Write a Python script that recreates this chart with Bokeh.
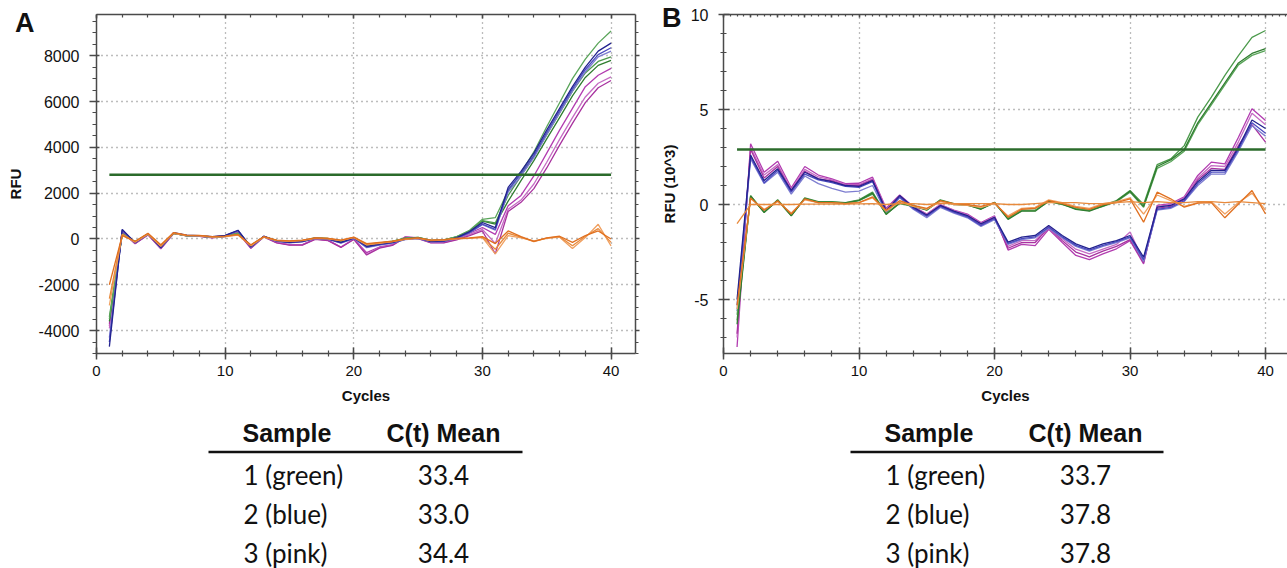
from bokeh.plotting import figure
from bokeh.models import Range1d, LinearAxis, SingleIntervalTicker, FixedTicker, PrintfTickFormatter
from bokeh.layouts import row, column
from bokeh.embed import file_html
from bokeh.resources import INLINE
from bokeh.core.properties import value

cycles = list(range(1, 41))

# ---- Panel A (RFU) ----
a_blue_1 = [-4700, 420, -160, 230, -380, 280, 170, 150, 100, 160, 380, -350, 120, -80, -150, -100, 40, 0, -150, 50,
            -320, -220, -150, 0, 50, -100, -80, 60, 320, 720, 500, 2250, 2950, 3750, 4750, 5700, 6650, 7500, 8200, 8550]
a_blue_2 = [-4500, 380, -150, 220, -360, 260, 160, 140, 90, 150, 350, -330, 110, -90, -160, -120, 30, -10, -170, 30,
            -350, -250, -170, -20, 30, -120, -100, 40, 280, 650, 420, 2150, 2850, 3650, 4650, 5600, 6550, 7400, 8050, 8350]
a_blue_3 = [-4300, 400, -170, 210, -400, 270, 150, 130, 80, 140, 360, -370, 100, -100, -170, -130, 20, -20, -180, 20,
            -380, -270, -180, -30, 20, -130, -110, 30, 260, 620, 380, 2050, 2750, 3550, 4550, 5500, 6450, 7300, 7950, 8200]
a_green_1 = [-3500, 250, -120, 220, -300, 250, 150, 130, 90, 120, 250, -280, 100, -60, -120, -80, 50, 20, -100, 60,
             -250, -180, -100, 40, 70, -60, -40, 100, 380, 860, 930, 2100, 2900, 3800, 4900, 5950, 7000, 7850, 8550, 9080]
a_green_2 = [-3600, 200, -130, 200, -320, 240, 140, 120, 80, 110, 230, -300, 90, -70, -130, -90, 40, 10, -110, 50,
             -270, -200, -110, 30, 60, -70, -50, 90, 330, 780, 650, 1650, 2550, 3420, 4370, 5300, 6250, 7050, 7580, 7800]
a_green_3 = [-3400, 220, -110, 210, -310, 245, 145, 125, 85, 115, 240, -290, 95, -65, -125, -85, 45, 15, -105, 55,
             -260, -190, -105, 35, 65, -65, -45, 95, 350, 800, 700, 1900, 2750, 3600, 4550, 5500, 6450, 7250, 7750, 7950]
a_pink_1 = [-3800, 300, -200, 200, -400, 260, 160, 130, 70, 120, 300, -380, 110, -150, -250, -250, 0, -50, -350, 0,
            -600, -350, -250, 100, 50, -150, -150, 0, 250, 500, 200, 1450, 1900, 2750, 3750, 4750, 5700, 6650, 7150, 7450]
a_pink_2 = [-3900, 320, -190, 190, -420, 250, 150, 120, 60, 110, 280, -400, 100, -160, -260, -260, -10, -60, -360, -10,
            -670, -380, -270, 80, 30, -160, -160, -20, 200, 420, -200, 1300, 1700, 2400, 3350, 4350, 5300, 6200, 6800, 7080]
a_pink_3 = [-3700, 310, -210, 180, -430, 240, 140, 110, 50, 100, 270, -410, 90, -170, -270, -270, -20, -70, -370, -20,
            -700, -400, -280, 60, 20, -170, -170, -40, 150, 350, -650, 1200, 1600, 2200, 3100, 4100, 5050, 5950, 6600, 6920]
a_orange_1 = [-2000, 150, -100, 250, -250, 280, 170, 160, 100, 120, 200, -250, 100, -50, -80, -50, 50, 30, -50, 80,
              -200, -150, -100, 0, 50, -50, -30, 30, 50, 100, -200, 350, 100, -100, 50, 120, -150, 150, 350, 0]
a_orange_2 = [-2600, 200, -120, 230, -300, 260, 160, 150, 90, 110, 180, -280, 90, -60, -90, -60, 40, 20, -60, 70,
              -230, -170, -110, -10, 40, -60, -40, 20, 40, 80, -450, 250, 80, -120, 40, 100, -300, 120, 450, -150]
a_orange_3 = [-2900, 180, -140, 210, -320, 250, 150, 140, 80, 100, 170, -300, 80, -70, -100, -70, 30, 10, -70, 60,
              -260, -190, -120, -20, 30, -70, -50, 10, 30, 60, -650, 150, 50, -80, 30, 80, -420, 60, 640, -300]
a_threshold = 2800

# ---- Panel B (RFU x 10^3) ----
b_blue_1 = [-5.0, 2.6, 1.26, 1.88, 0.74, 1.7, 1.35, 1.2, 1.0, 0.95, 1.26, -0.32, 0.47, -0.14, -0.55, -0.05, -0.35, -0.58, -1.02, -0.67,
            -1.98, -1.72, -1.63, -1.1, -1.63, -2.07, -2.33, -2.07, -1.9, -1.63, -2.77, -0.14, -0.05, 0.3, 1.2, 1.8, 1.8, 3.0, 4.45, 4.0]
b_blue_2 = [-5.3, 2.5, 1.15, 1.8, 0.65, 1.6, 1.3, 1.15, 0.95, 0.9, 1.2, -0.4, 0.4, -0.2, -0.62, -0.1, -0.4, -0.65, -1.1, -0.75,
            -2.05, -1.8, -1.7, -1.2, -1.7, -2.15, -2.4, -2.15, -1.95, -1.7, -2.9, -0.25, -0.15, 0.2, 1.1, 1.7, 1.7, 2.9, 4.3, 3.75]
b_blue_3 = [-5.6, 2.4, 1.1, 1.7, 0.55, 1.5, 1.1, 0.85, 0.65, 0.7, 1.0, -0.45, 0.35, -0.25, -0.7, -0.15, -0.45, -0.7, -1.15, -0.8,
            -2.1, -1.85, -1.75, -1.25, -1.75, -2.2, -2.45, -2.2, -2.0, -1.75, -3.0, -0.3, -0.2, 0.15, 1.0, 1.6, 1.6, 2.8, 4.15, 3.6]
b_pink_1 = [-7.5, 3.2, 1.7, 2.28, 0.88, 2.0, 1.55, 1.35, 1.1, 1.12, 1.44, -0.2, 0.5, -0.1, -0.5, 0.0, -0.3, -0.5, -0.95, -0.6,
            -2.4, -2.1, -2.16, -1.3, -2.0, -2.68, -2.9, -2.6, -2.33, -1.9, -3.12, -0.05, 0.05, 0.4, 1.53, 2.23, 2.14, 3.54, 5.04, 4.42]
b_pink_2 = [-7.0, 3.0, 1.55, 2.1, 0.8, 1.85, 1.45, 1.3, 1.05, 1.05, 1.35, -0.25, 0.45, -0.12, -0.52, -0.02, -0.32, -0.55, -1.0, -0.62,
            -2.2, -1.9, -1.9, -1.15, -1.8, -2.35, -2.6, -2.35, -2.1, -1.45, -2.95, -0.1, 0.0, 0.35, 1.4, 2.05, 2.0, 3.3, 4.8, 4.2]
b_pink_3 = [-6.8, 2.9, 1.4, 2.0, 0.7, 1.75, 1.35, 1.25, 1.0, 1.0, 1.3, -0.3, 0.4, -0.18, -0.6, -0.08, -0.4, -0.62, -1.1, -0.7,
            -2.3, -2.0, -2.0, -1.2, -1.9, -2.5, -2.75, -2.45, -2.2, -1.85, -3.05, -0.2, -0.1, 0.25, 1.3, 1.9, 1.85, 3.1, 4.2, 3.28]
b_green_1 = [-6.1, 0.47, -0.4, 0.25, -0.58, 0.35, 0.15, 0.15, 0.1, 0.25, 0.65, -0.5, 0.1, -0.05, -0.28, 0.25, 0.05, 0.0, -0.23, 0.12,
             -0.75, -0.32, -0.32, 0.21, 0.04, -0.23, -0.32, -0.05, 0.21, 0.74, 0.0, 2.1, 2.4, 3.1, 4.6, 5.65, 6.8, 7.84, 8.8, 9.16]
b_green_2 = [-6.3, 0.45, -0.42, 0.22, -0.6, 0.33, 0.12, 0.12, 0.08, 0.22, 0.6, -0.52, 0.08, -0.08, -0.3, 0.22, 0.02, -0.02, -0.25, 0.1,
             -0.78, -0.35, -0.35, 0.18, 0.02, -0.25, -0.35, -0.08, 0.18, 0.7, -0.1, 2.0, 2.35, 2.9, 4.3, 5.35, 6.4, 7.45, 7.95, 8.2]
b_green_3 = [-5.8, 0.4, -0.38, 0.2, -0.55, 0.3, 0.1, 0.1, 0.05, 0.2, 0.55, -0.48, 0.05, -0.1, -0.25, 0.2, 0.0, -0.05, -0.2, 0.08,
             -0.7, -0.3, -0.3, 0.15, 0.0, -0.2, -0.3, -0.1, 0.15, 0.65, -0.15, 1.9, 2.25, 2.8, 4.2, 5.25, 6.3, 7.35, 7.85, 8.1]
b_orange_1 = [-5.3, 0.35, -0.3, 0.2, -0.5, 0.3, 0.1, 0.1, 0.05, 0.1, 0.4, -0.3, 0.2, -0.05, -0.2, 0.2, 0.05, 0.0, -0.1, 0.1,
              -0.67, -0.25, -0.2, 0.2, 0.05, -0.15, -0.25, 0.0, 0.1, 0.3, -0.93, 0.65, 0.3, -0.14, 0.07, 0.1, -0.7, 0.03, 0.74, -0.5]
b_orange_2 = [-1.0, 0.0, 0.0, 0.0, 0.0, 0.02, 0.02, 0.02, 0.02, 0.03, 0.05, 0.0, 0.05, 0.05, 0.0, 0.05, 0.05, 0.05, 0.05, 0.05,
              0.0, 0.0, 0.05, 0.1, 0.1, 0.1, 0.05, 0.05, 0.1, 0.15, 0.1, 0.15, 0.1, 0.1, 0.15, 0.15, 0.1, 0.15, 0.1, 0.05]
b_orange_3 = [-5.5, 0.3, -0.25, 0.15, -0.45, 0.25, 0.1, 0.1, 0.05, 0.1, 0.35, -0.35, 0.15, -0.1, -0.25, 0.15, 0.0, -0.05, -0.15, 0.05,
              -0.6, -0.2, -0.15, 0.25, 0.1, -0.1, -0.2, 0.05, 0.15, 0.35, -0.5, 0.5, 0.2, -0.1, 0.1, 0.15, -0.5, 0.1, 0.6, -0.3]
b_threshold = 2.9

# ---- Tables ----
table_header = ["Sample", "C(t) Mean"]
table_samples = ["1 (green)", "2 (blue)", "3 (pink)"]
ct_a = ["33.4", "33.0", "34.4"]
ct_b = ["33.7", "37.8", "37.8"]

AX = "#4a4a4a"
TICK_FONT = "Liberation Sans"


def style_axis(ax, mj_in, mj_out, mn_in, mn_out, labels=True, standoff=10, size="15px"):
    ax.axis_line_color = AX
    ax.axis_line_width = 1.5
    ax.major_tick_line_color = AX
    ax.minor_tick_line_color = AX
    ax.major_tick_line_width = 1.5
    ax.minor_tick_line_width = 1.2
    ax.major_tick_in = mj_in
    ax.major_tick_out = mj_out
    ax.minor_tick_in = mn_in
    ax.minor_tick_out = mn_out
    ax.major_label_text_font = TICK_FONT
    ax.major_label_text_color = "#111111"
    ax.axis_label_text_font = TICK_FONT
    ax.axis_label_text_font_style = "bold"
    ax.axis_label_text_font_size = "15px"
    ax.axis_label_text_color = "#111111"
    ax.formatter = PrintfTickFormatter(format="%d")
    if labels:
        ax.major_label_text_font_size = size
        ax.major_label_standoff = standoff
    else:
        ax.major_label_text_font_size = "1px"
        ax.major_label_text_alpha = 0
        ax.major_label_standoff = 0


def panel_letter(p, letter, y_pos, standoff):
    # an outer left axis with a single tick whose label is the panel letter
    ax = LinearAxis(ticker=FixedTicker(ticks=[y_pos], minor_ticks=[]),
                    major_label_overrides={y_pos: letter})
    ax.axis_line_color = None
    ax.major_tick_line_color = None
    ax.minor_tick_line_color = None
    ax.major_tick_in = 0
    ax.major_tick_out = 0
    ax.major_label_standoff = standoff
    ax.major_label_text_font = "Liberation Sans"
    ax.major_label_text_font_style = "bold"
    ax.major_label_text_font_size = "27px"
    ax.major_label_text_color = "#111111"
    p.add_layout(ax, "left")


def add_series(p, series, color, width=1.3):
    p.line(x=cycles, y=series, line_color=color, line_width=width)


def panel_fig(width, xr, yr, left, right):
    p = figure(width=width, height=410, x_range=xr, y_range=yr,
               output_backend="svg", toolbar_location=None,
               min_border_left=left, min_border_right=right,
               min_border_top=14, min_border_bottom=57)
    p.outline_line_color = None
    p.background_fill_color = "white"
    p.border_fill_color = "white"
    p.xgrid.grid_line_color = "#7a7a7a"
    p.ygrid.grid_line_color = "#7a7a7a"
    p.xgrid.grid_line_dash = "1 4"
    p.ygrid.grid_line_dash = "1 4"
    p.xgrid.grid_line_width = 1.3
    p.ygrid.grid_line_width = 1.3
    return p


# ================= Panel A =================
pA = panel_fig(640, Range1d(0, 41.9), Range1d(-5000, 9800), 96, 5)
pA.xaxis.ticker = SingleIntervalTicker(interval=10, num_minor_ticks=5)
pA.yaxis.ticker = SingleIntervalTicker(interval=2000, num_minor_ticks=4)
pA.xaxis.axis_label = "Cycles"
pA.yaxis.axis_label = "RFU"
style_axis(pA.xaxis[0], 6, 6, 3, 3, standoff=6)
style_axis(pA.yaxis[0], 3, 7, 0, 4, standoff=10, size="16px")
pA.xaxis.axis_label_standoff = 8
pA.yaxis.axis_label_standoff = 12
topA = LinearAxis(ticker=SingleIntervalTicker(interval=10, num_minor_ticks=5))
style_axis(topA, 4, 0, 3, 0, labels=False)
pA.add_layout(topA, "above")
rightA = LinearAxis(ticker=SingleIntervalTicker(interval=2000, num_minor_ticks=4))
style_axis(rightA, 0, 4, 0, 3, labels=False)
pA.add_layout(rightA, "right")

for s, c in [(a_pink_1, "#b23cb0"), (a_pink_2, "#c56cc4"), (a_pink_3, "#a8329f"),
             (a_green_2, "#2f7d2f"), (a_green_3, "#4c9a4c"), (a_green_1, "#5aa55a"),
             (a_blue_3, "#7d7dd0"), (a_blue_2, "#4a4ac0"), (a_blue_1, "#23238f"),
             (a_orange_3, "#f0a060"), (a_orange_2, "#e88a3c"), (a_orange_1, "#e07020")]:
    add_series(pA, s, c)
pA.line(x=[cycles[0], cycles[-1]], y=[a_threshold, a_threshold], line_color="#2b6b2b", line_width=2.5)
panel_letter(pA, "A", 9450, -31)

# ================= Panel B =================
pB = panel_fig(647, Range1d(0, 41.62), Range1d(-7.84, 10), 83, 0)
pB.xaxis.ticker = SingleIntervalTicker(interval=10, num_minor_ticks=5)
pB.yaxis.ticker = SingleIntervalTicker(interval=5, num_minor_ticks=5)
pB.xaxis.axis_label = "Cycles"
pB.yaxis.axis_label = "RFU (10^3)"
style_axis(pB.xaxis[0], 6, 6, 3, 3, standoff=6)
style_axis(pB.yaxis[0], 6, 5, 3, 3, standoff=10, size="16px")
pB.xaxis.axis_label_standoff = 8
pB.yaxis.axis_label_standoff = 10
topB = LinearAxis(ticker=SingleIntervalTicker(interval=2, num_minor_ticks=4))
style_axis(topB, 3, 0, 2, 0, labels=False)
pB.add_layout(topB, "above")

for s, c in [(b_pink_1, "#b23cb0"), (b_pink_2, "#c56cc4"), (b_pink_3, "#a8329f"),
             (b_blue_3, "#7d7dd0"), (b_blue_2, "#4a4ac0"), (b_blue_1, "#23238f"),
             (b_green_1, "#4c9a4c"), (b_green_3, "#5aa55a"), (b_green_2, "#2f7d2f"),
             (b_orange_3, "#f0a060"), (b_orange_1, "#e07020"), (b_orange_2, "#e88a3c")]:
    add_series(pB, s, c)
pB.line(x=[cycles[0], cycles[-1]], y=[b_threshold, b_threshold], line_color="#2b6b2b", line_width=2.5)
panel_letter(pB, "B", 9.82, -24)


# ================= Tables =================
def make_table(fx0, fx1, col1_center, col2_center, row_left, line_x0, line_x1, cts, width):
    # x range equals the pixel span of the plot frame above it (frames are aligned in a column)
    t = figure(width=width, height=158, x_range=Range1d(fx0, fx1), y_range=Range1d(568, 410),
               x_axis_type=None, y_axis_type=None, min_border=0, toolbar_location=None,
               output_backend="svg")
    t.outline_line_color = None
    t.grid.visible = False
    t.text(x=[col1_center, col2_center], y=[432, 432], text=table_header,
           text_font=value("Liberation Sans"), text_font_style="bold", text_font_size="25px",
           text_align="center", text_baseline="middle", text_color="#111111")
    t.segment(x0=[line_x0], y0=[451.5], x1=[line_x1], y1=[451.5], line_color="#111111", line_width=2.5)
    ys = [474, 513, 552]
    t.text(x=[row_left] * 3, y=ys, text=table_samples, text_font=value("Lato"), text_font_size="26px",
           text_align="left", text_baseline="middle", text_color="#111111")
    t.text(x=[col2_center] * 3, y=ys, text=cts, text_font=value("Lato"), text_font_size="26px",
           text_align="center", text_baseline="middle", text_color="#111111")
    return t


tA = make_table(96, 635, 286.5, 443, 243, 208, 522, ct_a, 640)
tB = make_table(723, 1287, 928.5, 1085, 885, 850, 1163, ct_b, 647)

layout = row(column(pA, tA), column(pB, tB))
open("out.html", "w").write(file_html(layout, INLINE))
